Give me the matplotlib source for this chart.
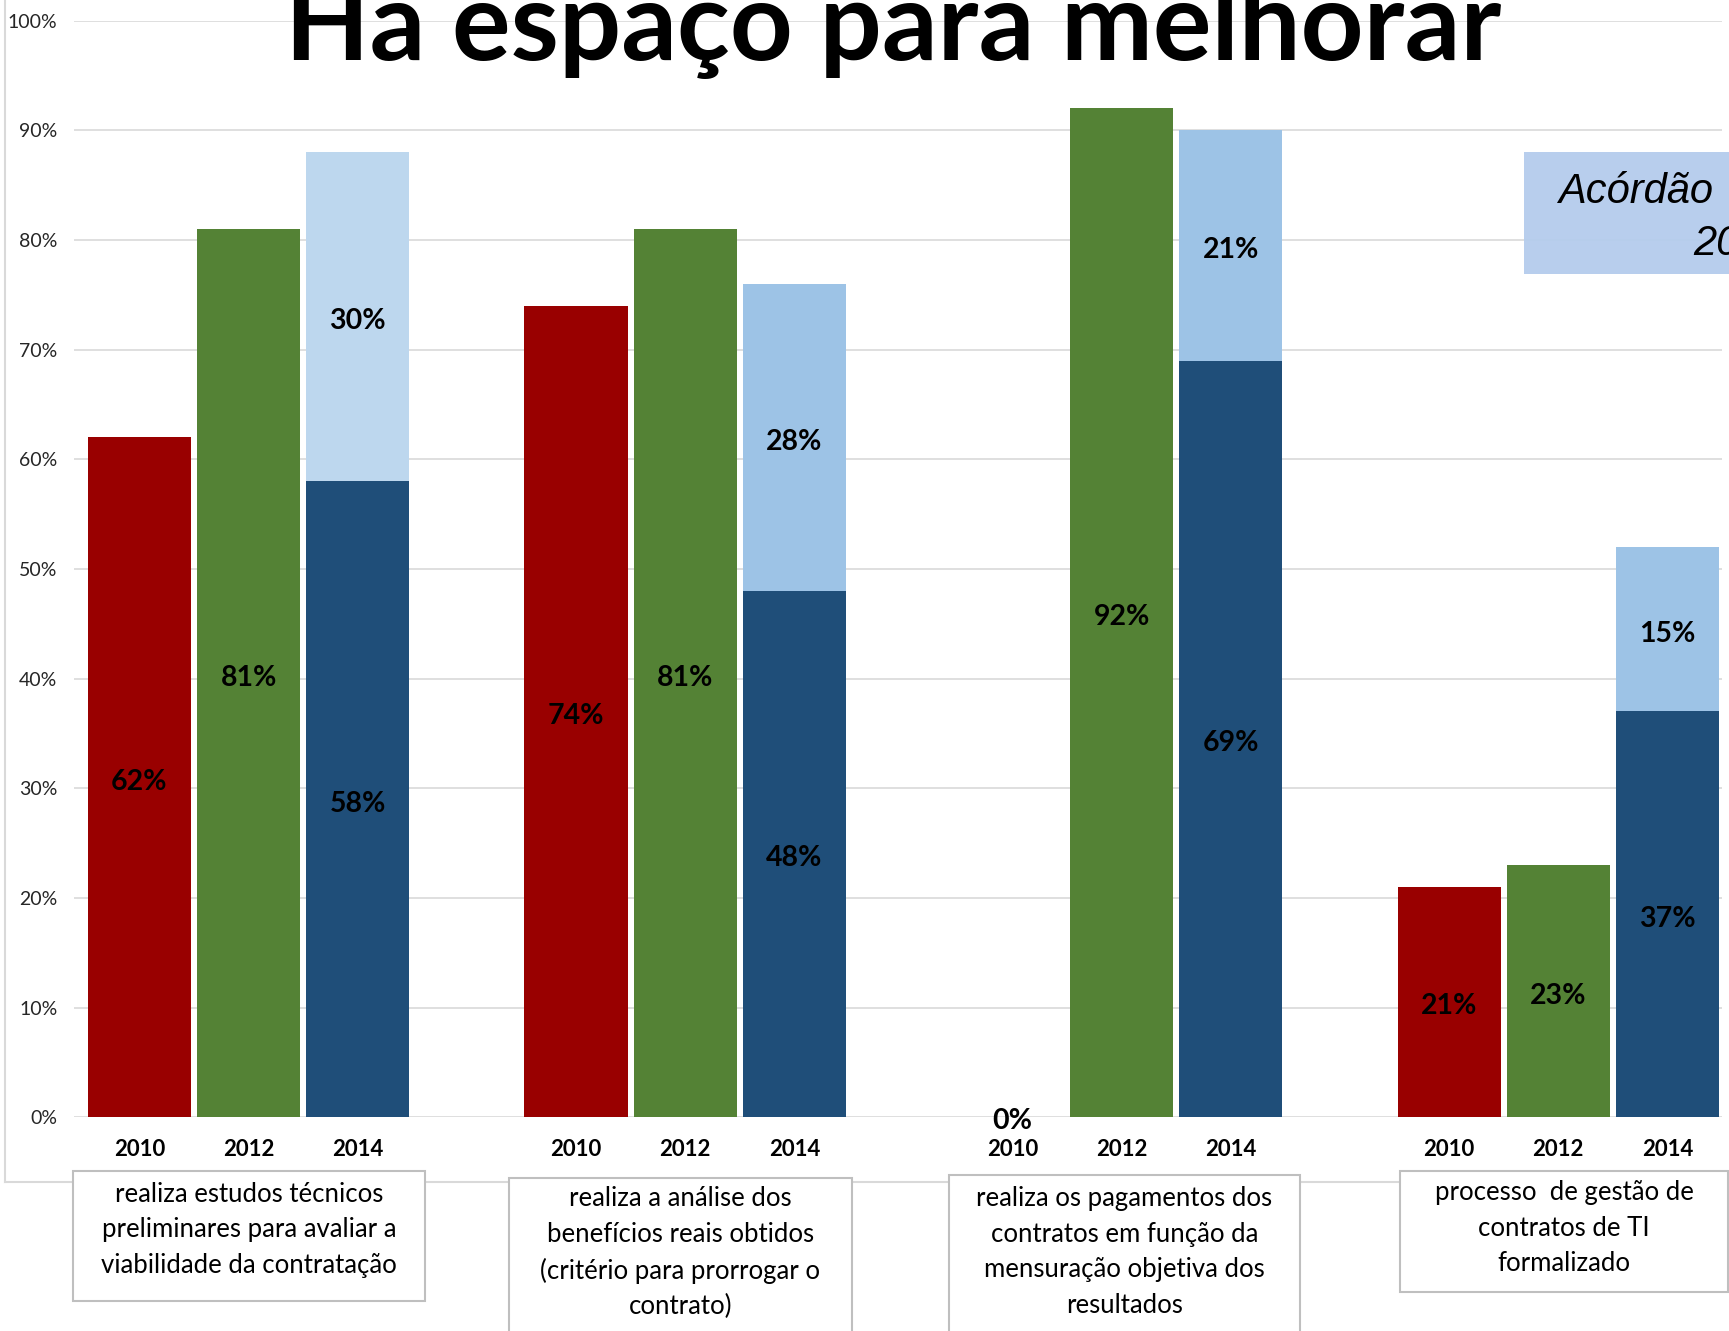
import matplotlib
matplotlib.use("Agg")
import matplotlib.pyplot as plt
from matplotlib.patches import Rectangle

# data (percent)
categories = [
    "realiza estudos técnicos\npreliminares para avaliar a\nviabilidade da contratação",
    "realiza a análise dos\nbenefícios reais obtidos\n(critério para prorrogar o\ncontrato)",
    "realiza os pagamentos dos\ncontratos em função da\nmensuração objetiva dos\nresultados",
    "processo  de gestão de\ncontratos de TI\nformalizado",
]
years = ["2010", "2012", "2014"]
v2010 = [62, 74, 0, 21]
v2012 = [81, 81, 92, 23]
v2014_dark = [58, 48, 69, 37]
v2014_light = [30, 28, 21, 15]
yticks = [0, 10, 20, 30, 40, 50, 60, 70, 80, 90, 100]

RED = "#990000"
GREEN = "#548235"
DARK = "#1F4E79"
LIGHT = ["#BDD7EE", "#9DC3E6", "#9DC3E6", "#9DC3E6"]

plt.rcParams["font.family"] = ["Lato", "DejaVu Sans"]

fig = plt.figure(figsize=(17.29, 13.31), dpi=100)

# chart area border (left and bottom edges visible)
fig.add_artist(plt.Line2D([5 / 1729, 5 / 1729], [1 - 1182 / 1331, 1.0],
                          transform=fig.transFigure, color="#D9D9D9", lw=1.5))
fig.add_artist(plt.Line2D([5 / 1729, 1.0], [1 - 1182 / 1331, 1 - 1182 / 1331],
                          transform=fig.transFigure, color="#D9D9D9", lw=1.5))

ax = fig.add_axes([74 / 1729, 0.1606, 1648 / 1729, 0.8239])

w = 0.945
x10 = [g * 4 for g in range(4)]
x12 = [g * 4 + 1 for g in range(4)]
x14 = [g * 4 + 2 for g in range(4)]

ax.bar(x10, v2010, width=w, color=RED, zorder=2)
ax.bar(x12, v2012, width=w, color=GREEN, zorder=2)
ax.bar(x14, v2014_dark, width=w, color=DARK, zorder=2)
ax.bar(x14, v2014_light, width=w, bottom=v2014_dark, color=LIGHT, zorder=2)

lab = dict(ha="center", va="center", fontsize=20.5, fontweight="bold", color="black", zorder=3)
off = -0.4
for i in range(4):
    if v2010[i] > 0:
        ax.text(x10[i], v2010[i] / 2 + off, f"{v2010[i]}%", **lab)
    else:
        ax.text(x10[i], -0.3, "0%", **lab)
    ax.text(x12[i], v2012[i] / 2 + off, f"{v2012[i]}%", **lab)
    ax.text(x14[i], v2014_dark[i] / 2 + off, f"{v2014_dark[i]}%", **lab)
    ax.text(x14[i], v2014_dark[i] + v2014_light[i] / 2 + off, f"{v2014_light[i]}%", **lab)

ax.set_xlim(-0.6, 14.5)
ax.set_ylim(0, 100)
ax.set_yticks(yticks)
ax.set_yticklabels([f"{t}%" for t in yticks], fontsize=14, color="#262626")
ax.set_xticks(x10 + x12 + x14)
ax.set_xticklabels(years[0:1] * 4 + years[1:2] * 4 + years[2:3] * 4,
                   fontsize=16, fontweight="bold")
ax.tick_params(axis="both", length=0)
ax.tick_params(axis="y", pad=12)
ax.tick_params(axis="x", pad=16)
ax.grid(axis="y", color="#D9D9D9", lw=1.2, zorder=0)
ax.set_axisbelow(True)
for s in ax.spines.values():
    s.set_visible(False)

# title (top is cut off in the original)
fig.text(893 / 1729, 1 - 60 / 1331, "Ha espaço para melhorar", ha="center", va="baseline",
         fontsize=79, fontweight="bold", color="black")

# blue note box at the right edge
fig.add_artist(Rectangle((1524 / 1729, 1 - 274 / 1331), 0.2, 122 / 1331,
                         transform=fig.transFigure, facecolor="#B4CCEC", edgecolor="none",
                         alpha=0.95, zorder=5))
fig.text(1558 / 1729, 1 - 203 / 1331, "Acórdão", fontsize=30, style="italic",
         family="Liberation Sans", va="baseline", ha="left", zorder=6)
fig.text(1693 / 1729, 1 - 255 / 1331, "20", fontsize=30, style="italic",
         family="Liberation Sans", va="baseline", ha="left", zorder=6)

# category boxes below the axis
boxes = [(73, 425, 1171, 1301, 1230), (509, 852, 1178, 1345, 1253),
         (949, 1300, 1175, 1345, 1252), (1400, 1728, 1171, 1292, 1228)]
for (x0, x1, y0, y1, yc), txt in zip(boxes, categories):
    fig.add_artist(Rectangle((x0 / 1729, 1 - y1 / 1331), (x1 - x0) / 1729, (y1 - y0) / 1331,
                             transform=fig.transFigure, facecolor="white",
                             edgecolor="#BFBFBF", lw=1.5, zorder=5))
    fig.text((x0 + x1) / 2 / 1729, 1 - yc / 1331, txt, ha="center", va="center",
             fontsize=18.5, linespacing=1.52, zorder=6)

fig.savefig("out.png", dpi=100)
